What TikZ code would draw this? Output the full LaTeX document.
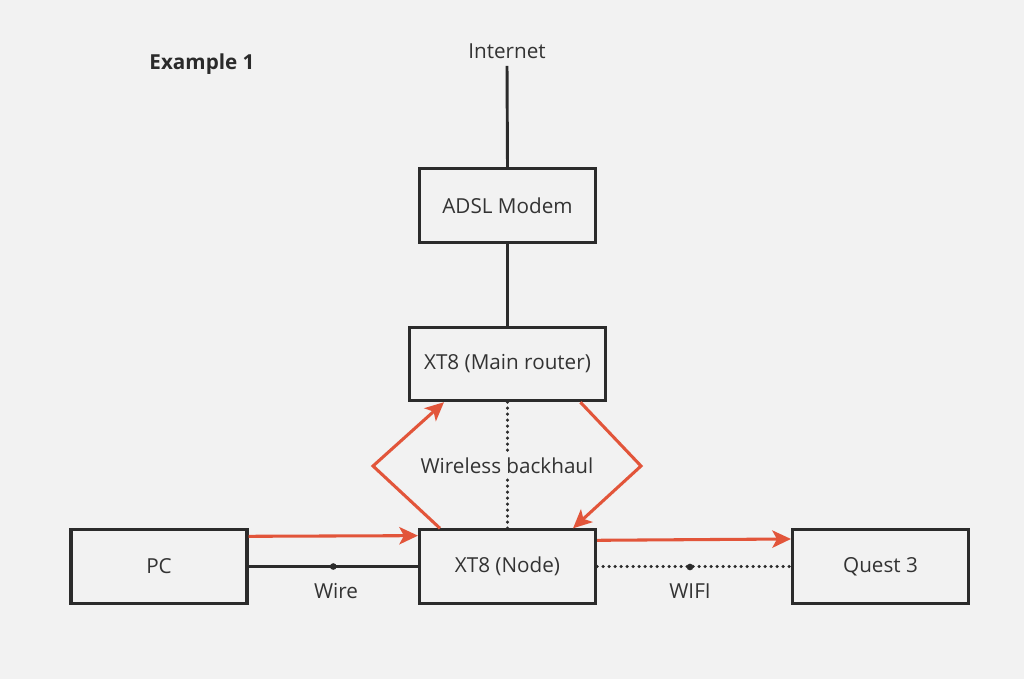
\documentclass[tikz,border=0pt]{standalone}
\usepackage{fontspec}
\setmainfont{Open Sans}
\usetikzlibrary{arrows.meta,calc}
\definecolor{bg}{HTML}{F2F2F2}
\definecolor{ink}{HTML}{2B2B2B}
\definecolor{txt}{HTML}{333333}
\definecolor{accent}{HTML}{E2553A}
\begin{document}
\begin{tikzpicture}[x=0.75pt,y=-0.75pt,
  devbox/.style={draw=ink,line width=2.3pt,fill=bg,minimum width=132pt,minimum height=55pt,text=txt,font=\fontsize{15.5pt}{18pt}\selectfont},
  lbl/.style={text=txt,font=\fontsize{15.5pt}{18pt}\selectfont},
  solidline/.style={draw=ink,line width=2.2pt},
  dotline/.style={draw=ink,line width=2.6pt,line cap=round,dash pattern=on 0pt off 4.5pt},
  redarrow/.style={draw=accent,line width=2.3pt,-{Stealth[length=14pt,width=13pt,inset=3.5pt]}},
  junction/.style={circle,fill=ink,inner sep=0pt,minimum size=5pt}
]
\fill[bg] (0,0) rectangle (1024,679);
\useasboundingbox (0,0) rectangle (1024,679);

\node[font=\bfseries\fontsize{15.5pt}{18pt}\selectfont,text=ink] (title) at (202,64) {Example 1};
\node[lbl] (internet) at (507,51) {Internet};
\node[devbox] (modem) at (507.5,205.5) {ADSL Modem};
\node[devbox,minimum width=147pt] (router) at (507.5,364) {XT8 (Main router)};
\node[devbox] (pc) at (159,566.5) {PC};
\node[devbox] (xnode) at (507.5,566.5) {XT8 (Node)};
\node[devbox] (quest) at (880.5,566.5) {Quest 3};

\draw[solidline] ([yshift=-2pt]internet.south) -- (modem.north);
\draw[solidline] (modem.south) -- (router.south |- router.north);

% wireless backhaul
\draw[dotline] (router.south) -- (xnode.north);
\node[lbl,fill=bg,inner sep=3pt] (backhaul) at (507,466) {Wireless backhaul};

% wire
\draw[solidline] (pc.east) -- (xnode.west) coordinate[pos=0.5] (wiremid);
\node[junction] (wdot) at (wiremid) {};
\node[lbl] (wirelbl) at (336,591) {Wire};

% wifi
\draw[dotline] (xnode.east) -- (quest.west);
\node[junction] (fdot) at (690,567) {};
\node[lbl] (wifilbl) at (690,591) {WIFI};

% red arrows
\coordinate (lc) at (373,466);
\coordinate (rc) at (641,466);
\draw[redarrow] ([yshift=-6pt]pc.north east) -- ([yshift=-5.5pt]xnode.north west);
\draw[redarrow] ([yshift=-9pt]xnode.north east) -- ([yshift=-8pt]quest.north west);
\draw[redarrow] ([xshift=16.5pt]xnode.north west) -- (lc) -- ([xshift=27pt]router.south west);
\draw[redarrow] ([xshift=-20pt]router.south east) -- (rc) -- ([xshift=-18pt]xnode.north east);
\end{tikzpicture}
\end{document}
